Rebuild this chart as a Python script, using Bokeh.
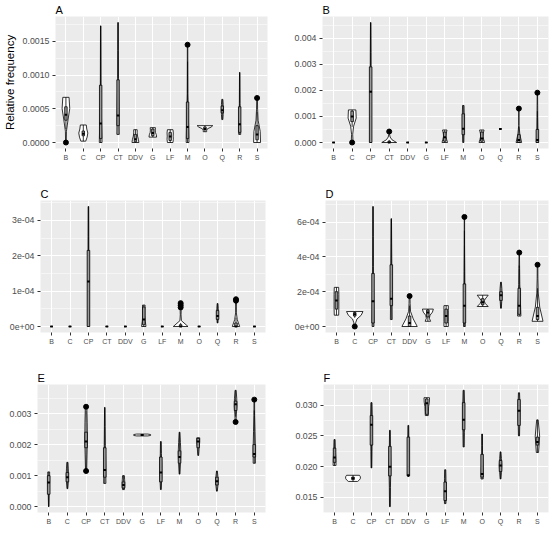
from bokeh.plotting import figure
from bokeh.layouts import column, row
from bokeh.models import Range1d, FixedTicker
from bokeh.embed import file_html
from bokeh.resources import INLINE

categories = ["B", "C", "CP", "CT", "DDV", "G", "LF", "M", "O", "Q", "R", "S"]

# ---------------- Panel A ----------------
A_lo = [0.0, 0.00002, 0.0, 0.00012, 0.0, 0.00008, 0.0, 0.0, 0.00016, 0.00034, 0.00012, 0.0]
A_hi = [0.00067, 0.00026, 0.00173, 0.00178, 0.00019, 0.00022, 0.00019, 0.00145, 0.00025, 0.00064, 0.00104, 0.00066]
A_q1 = [0.00033, 0.0001, 0.00006, 0.00025, 0.00001, 0.0001, 0.00003, 0.00006, 0.00019, 0.00044, 0.00015, 0.00004]
A_med = [0.00041, 0.00013, 0.00028, 0.0004, 0.00005, 0.00014, 0.00009, 0.00023, 0.0002, 0.00048, 0.00027, 0.00012]
A_q3 = [0.00053, 0.00017, 0.00085, 0.00093, 0.00012, 0.0002, 0.00015, 0.0006, 0.00023, 0.00054, 0.00053, 0.00025]
A_wlo = [0.0002, 0.00002, 0.0, 0.00012, 0.0, 0.00008, 0.0, 0.0, 0.00016, 0.00034, 0.00012, 0.0]
A_whi = [0.00067, 0.00026, 0.00173, 0.00178, 0.00019, 0.00022, 0.00019, 0.0012, 0.00025, 0.00064, 0.00104, 0.00045]
A_out = [[0.0], [], [], [], [], [], [], [0.00145], [], [], [], [0.00066]]
A_shape = [[0.02, 0.03, 0.12, 0.22, 0.18], [0.14, 0.22, 0.26, 0.2, 0.17], [0.08, 0.04, 0.02, 0.015, 0.01],
           [0.07, 0.05, 0.02, 0.015, 0.01], [0.2, 0.17, 0.12, 0.1, 0.1], [0.22, 0.2, 0.15, 0.14, 0.15],
           [0.16, 0.18, 0.17, 0.18, 0.16], [0.08, 0.05, 0.02, 0.015, 0.012], [0.1, 0.1, 0.15, 0.35, 0.45],
           [0.03, 0.05, 0.06, 0.05, 0.03], [0.06, 0.04, 0.02, 0.015, 0.01], [0.2, 0.18, 0.06, 0.03, 0.02]]
A_ticks = [0.0, 0.0005, 0.001, 0.0015]
A_tick_labels = ["0.0000", "0.0005", "0.0010", "0.0015"]

# ---------------- Panel B ----------------
B_lo = [0, 0, 0, 0, 0, 0, 0, 0, 0, 0.00052, 0, 0]
B_hi = [0, 0.00125, 0.0046, 0.00042, 0, 0, 0.00048, 0.00142, 0.00048, 0.00052, 0.0013, 0.00191]
B_q1 = [0, 0.0008, 0.0, 0, 0, 0, 0.00005, 0.0003, 0.00005, 0.00052, 0, 0]
B_med = [0, 0.001, 0.00195, 0, 0, 0, 0.0002, 0.00053, 0.00015, 0.00052, 0.0001, 0.0001]
B_q3 = [0, 0.0012, 0.0029, 0.00005, 0, 0, 0.0004, 0.0011, 0.0004, 0.00052, 0.0003, 0.0005]
B_wlo = [0, 0.0006, 0, 0, 0, 0, 0, 0, 0, 0.00052, 0, 0]
B_whi = [0, 0.00125, 0.0046, 0.0001, 0, 0, 0.00048, 0.00142, 0.00048, 0.00052, 0.0006, 0.0012]
B_out = [[], [0.0], [], [0.00042], [], [], [], [], [], [], [0.0013], [0.00191]]
B_shape = [[0, 0, 0, 0, 0], [0.05, 0.03, 0.08, 0.22, 0.2], [0.04, 0.03, 0.025, 0.02, 0.01],
           [0.4, 0.15, 0.05, 0.02, 0.02], [0, 0, 0, 0, 0], [0, 0, 0, 0, 0],
           [0.15, 0.1, 0.06, 0.08, 0.12], [0.03, 0.04, 0.05, 0.05, 0.04], [0.15, 0.1, 0.06, 0.08, 0.12],
           [0, 0, 0, 0, 0], [0.15, 0.05, 0.01, 0.01, 0.01], [0.06, 0.03, 0.02, 0.015, 0.01]]
B_ticks = [0.0, 0.001, 0.002, 0.003, 0.004]
B_tick_labels = ["0.000", "0.001", "0.002", "0.003", "0.004"]

# ---------------- Panel C ----------------
C_lo = [0, 0, 0, 0, 0, 0, 0, 0, 0, 0.00001, 0, 0]
C_hi = [0, 0, 0.000339, 0, 0, 0.0000605, 0, 0.000066, 0, 0.000065, 0.000077, 0]
C_q1 = [0, 0, 0, 0, 0, 0.000005, 0, 0, 0, 0.00002, 0, 0]
C_med = [0, 0, 0.000127, 0, 0, 0.00002, 0, 0, 0, 0.00003, 0, 0]
C_q3 = [0, 0, 0.000215, 0, 0, 0.000055, 0, 0.000005, 0, 0.000045, 0.00001, 0]
C_wlo = [0, 0, 0, 0, 0, 0, 0, 0, 0, 0.00001, 0, 0]
C_whi = [0, 0, 0.000339, 0, 0, 0.0000605, 0, 0.00001, 0, 0.000065, 0.000025, 0]
C_out = [[], [], [], [], [], [], [], [0.000054, 0.00006, 0.000066], [], [], [0.000073, 0.000077], []]
C_shape = [[0, 0, 0, 0, 0], [0, 0, 0, 0, 0], [0.04, 0.03, 0.025, 0.02, 0.015],
           [0, 0, 0, 0, 0], [0, 0, 0, 0, 0], [0.12, 0.08, 0.06, 0.06, 0.07],
           [0, 0, 0, 0, 0], [0.4, 0.04, 0.02, 0.03, 0.06], [0, 0, 0, 0, 0],
           [0.02, 0.04, 0.05, 0.04, 0.02], [0.2, 0.07, 0.02, 0.02, 0.03], [0, 0, 0, 0, 0]]
C_ticks = [0.0, 0.0001, 0.0002, 0.0003]
C_tick_labels = ["0e+00", "1e-04", "2e-04", "3e-04"]

# ---------------- Panel D ----------------
D_lo = [0.000065, 0.0, 0.0, 0.00004, 0.0, 0.00003, 0.0, 0.0, 0.000115, 0.000105, 0.00006, 0.00003]
D_hi = [0.000225, 0.000086, 0.00069, 0.00062, 0.000175, 0.0001, 0.00012, 0.00063, 0.00018, 0.000255, 0.000425, 0.000355]
D_q1 = [0.0001, 0.00006, 0.00002, 0.00012, 0.0, 0.000055, 0.00002, 0.00002, 0.000125, 0.00015, 0.00007, 0.00004]
D_med = [0.00015, 0.00007, 0.000145, 0.00016, 0.00002, 0.00008, 0.00006, 0.00012, 0.00014, 0.00018, 0.00012, 0.00006]
D_q3 = [0.0002, 0.00008, 0.000305, 0.000355, 0.00006, 0.000095, 0.0001, 0.000245, 0.00016, 0.0002, 0.00022, 0.00011]
D_wlo = [0.000065, 0.00005, 0.0, 0.00004, 0.0, 0.00003, 0.0, 0.0, 0.000115, 0.000105, 0.00006, 0.00003]
D_whi = [0.000225, 0.000086, 0.00069, 0.00062, 0.00012, 0.0001, 0.00012, 0.00055, 0.00018, 0.000255, 0.00035, 0.00022]
D_out = [[], [0.0], [], [], [0.000175], [], [], [0.00063], [], [], [0.000425], [0.000355]]
D_shape = [[0.12, 0.13, 0.13, 0.13, 0.12], [0.04, 0.05, 0.12, 0.35, 0.45], [0.05, 0.03, 0.02, 0.015, 0.01],
           [0.05, 0.04, 0.03, 0.02, 0.01], [0.42, 0.2, 0.05, 0.03, 0.02], [0.15, 0.08, 0.12, 0.25, 0.3],
           [0.12, 0.12, 0.12, 0.12, 0.12], [0.05, 0.03, 0.02, 0.01, 0.01], [0.3, 0.15, 0.07, 0.18, 0.3],
           [0.02, 0.04, 0.06, 0.05, 0.02], [0.09, 0.06, 0.03, 0.02, 0.01], [0.3, 0.12, 0.04, 0.02, 0.015]]
D_ticks = [0.0, 0.0002, 0.0004, 0.0006]
D_tick_labels = ["0e+00", "2e-04", "4e-04", "6e-04"]

# ---------------- Panel E ----------------
E_lo = [0.0, 0.00058, 0.00115, 0.00075, 0.00055, 0.00228, 0.00055, 0.00105, 0.00165, 0.0005, 0.00273, 0.0014]
E_hi = [0.00112, 0.00143, 0.00322, 0.0032, 0.001, 0.00234, 0.0021, 0.0024, 0.00222, 0.00115, 0.00375, 0.00345]
E_q1 = [0.0004, 0.0008, 0.0019, 0.00095, 0.0006, 0.0023, 0.0008, 0.0014, 0.0019, 0.0007, 0.0031, 0.0016]
E_med = [0.00078, 0.00095, 0.0021, 0.00118, 0.0007, 0.00231, 0.0011, 0.0016, 0.0021, 0.00082, 0.0033, 0.0017]
E_q3 = [0.001, 0.0011, 0.0024, 0.0019, 0.0008, 0.00232, 0.0016, 0.0018, 0.0022, 0.00095, 0.0034, 0.002]
E_wlo = [0.0, 0.00058, 0.0012, 0.00075, 0.00055, 0.00228, 0.00055, 0.00105, 0.00165, 0.0005, 0.0029, 0.0014]
E_whi = [0.00112, 0.00143, 0.0031, 0.0032, 0.001, 0.00234, 0.0021, 0.0024, 0.00222, 0.00115, 0.00375, 0.0031]
E_out = [[], [], [0.00115, 0.00322], [], [], [], [], [], [], [], [0.00273], [0.00345]]
E_shape = [[0.01, 0.02, 0.03, 0.05, 0.05], [0.02, 0.05, 0.06, 0.05, 0.03], [0.03, 0.05, 0.07, 0.06, 0.04],
           [0.06, 0.05, 0.03, 0.02, 0.01], [0.05, 0.07, 0.07, 0.06, 0.05], [0.3, 0.45, 0.45, 0.45, 0.3],
           [0.02, 0.05, 0.05, 0.03, 0.02], [0.02, 0.05, 0.07, 0.05, 0.02], [0.02, 0.04, 0.05, 0.08, 0.08],
           [0.02, 0.05, 0.07, 0.05, 0.02], [0.02, 0.04, 0.07, 0.06, 0.03], [0.06, 0.06, 0.04, 0.02, 0.015]]
E_ticks = [0.0, 0.001, 0.002, 0.003]
E_tick_labels = ["0.000", "0.001", "0.002", "0.003"]

# ---------------- Panel F ----------------
F_lo = [0.0202, 0.0176, 0.0198, 0.0135, 0.0184, 0.0283, 0.014, 0.0232, 0.018, 0.018, 0.025, 0.0223]
F_hi = [0.0244, 0.0186, 0.0304, 0.0259, 0.0267, 0.0312, 0.0195, 0.0324, 0.0253, 0.0224, 0.032, 0.0276]
F_q1 = [0.0207, 0.0179, 0.0235, 0.0185, 0.0185, 0.0285, 0.0145, 0.026, 0.0183, 0.0192, 0.0267, 0.0235]
F_med = [0.0215, 0.0181, 0.0268, 0.02, 0.0186, 0.0303, 0.016, 0.0276, 0.0188, 0.0202, 0.0291, 0.024]
F_q3 = [0.023, 0.0183, 0.0283, 0.0233, 0.0248, 0.031, 0.0175, 0.0304, 0.022, 0.021, 0.0309, 0.0248]
F_wlo = [0.0202, 0.0176, 0.0198, 0.0135, 0.0184, 0.0283, 0.014, 0.0232, 0.018, 0.018, 0.025, 0.0223]
F_whi = [0.0244, 0.0186, 0.0304, 0.0259, 0.0267, 0.0312, 0.0195, 0.0324, 0.0253, 0.0224, 0.032, 0.0276]
F_out = [[], [], [], [], [], [], [], [], [], [], [], []]
F_shape = [[0.08, 0.07, 0.05, 0.04, 0.03], [0.25, 0.35, 0.4, 0.4, 0.35], [0.02, 0.03, 0.04, 0.05, 0.03],
           [0.02, 0.03, 0.05, 0.03, 0.02], [0.02, 0.03, 0.03, 0.03, 0.02], [0.08, 0.09, 0.1, 0.14, 0.15],
           [0.04, 0.05, 0.04, 0.04, 0.03], [0.03, 0.04, 0.05, 0.05, 0.03], [0.06, 0.04, 0.02, 0.02, 0.02],
           [0.02, 0.05, 0.07, 0.05, 0.02], [0.03, 0.04, 0.05, 0.05, 0.03], [0.06, 0.09, 0.12, 0.08, 0.04]]
F_ticks = [0.015, 0.02, 0.025, 0.03]
F_tick_labels = ["0.015", "0.020", "0.025", "0.030"]

FONT = "Liberation Sans"
KNOTS = [0.0, 0.25, 0.5, 0.75, 1.0]
BOX_W = 0.14


def panel(title, lo, q1, med, q3, hi, wlo, whi, outl, shape, ticks, tick_labels,
          width, height, borders, ylabel=None):
    n = len(categories)
    pos = list(range(1, n + 1))
    allv = list(lo) + list(hi) + [v for o in outl for v in o]
    ymin, ymax = min(allv), max(allv)
    pad = 0.05 * (ymax - ymin)
    p = figure(width=width, height=height, x_range=Range1d(0.4, n + 0.6),
               y_range=Range1d(ymin - pad, ymax + pad), output_backend="svg",
               toolbar_location=None, title=title)
    p.min_border_left, p.min_border_right, p.min_border_top, p.min_border_bottom = borders
    p.background_fill_color = "#EBEBEB"
    p.border_fill_color = "white"
    p.outline_line_color = None

    p.title.text_font = FONT
    p.title.text_font_size = "11px"
    p.title.text_font_style = "normal"
    p.title.text_color = "black"
    p.title.align = "left"
    p.title.standoff = 2

    xt = FixedTicker(ticks=pos, minor_ticks=[])
    step = ticks[1] - ticks[0]
    minor = [t - step / 2 for t in ticks] + [ticks[-1] + step / 2]
    yt = FixedTicker(ticks=ticks, minor_ticks=minor)
    p.xaxis.ticker = xt
    p.yaxis.ticker = yt
    p.xgrid.ticker = xt
    p.ygrid.ticker = yt
    p.xaxis.major_label_overrides = {i + 1: c for i, c in enumerate(categories)}
    p.yaxis.major_label_overrides = dict(zip(ticks, tick_labels))
    for ax in p.axis:
        ax.axis_line_color = None
        ax.major_tick_line_color = "#333333"
        ax.major_tick_out = 3
        ax.major_tick_in = 0
        ax.minor_tick_line_color = None
        ax.major_label_text_color = "#4D4D4D"
        ax.major_label_text_font = FONT
        ax.major_label_standoff = 2
    p.xaxis.major_label_text_font_size = "7px"
    p.yaxis.major_label_text_font_size = "8.8px"
    if ylabel:
        p.yaxis.axis_label = ylabel
        p.yaxis.axis_label_text_font = FONT
        p.yaxis.axis_label_text_font_size = "11.5px"
        p.yaxis.axis_label_text_font_style = "normal"
        p.yaxis.axis_label_text_color = "black"
        p.yaxis.axis_label_standoff = 4

    p.xgrid.grid_line_color = "white"
    p.xgrid.grid_line_width = 1.1
    p.ygrid.grid_line_color = "white"
    p.ygrid.grid_line_width = 1.1
    p.ygrid.minor_grid_line_color = "white"
    p.ygrid.minor_grid_line_width = 0.5

    # violins
    vx, vy = [], []
    for i in range(n):
        if hi[i] <= lo[i]:
            continue
        c = pos[i]
        ys = [lo[i] + k * (hi[i] - lo[i]) for k in KNOTS]
        w = shape[i]
        vx.append([c + wi for wi in w] + [c - wi for wi in w[::-1]])
        vy.append(ys + ys[::-1])
    p.patches(vx, vy, fill_color="white", line_color="black", line_width=0.8)

    # whiskers
    p.segment(x0=pos, y0=wlo, x1=pos, y1=q1, line_color="black", line_width=0.8)
    p.segment(x0=pos, y0=q3, x1=pos, y1=whi, line_color="black", line_width=0.8)
    # boxes
    p.quad(left=[c - BOX_W / 2 for c in pos], right=[c + BOX_W / 2 for c in pos],
           bottom=q1, top=q3, fill_color="#9A9A9A", line_color="black", line_width=0.8)
    # medians
    p.segment(x0=[c - BOX_W / 2 for c in pos], y0=med, x1=[c + BOX_W / 2 for c in pos], y1=med,
              line_color="black", line_width=2)
    # outliers
    ox, oy = [], []
    for i, o in enumerate(outl):
        for v in o:
            ox.append(pos[i])
            oy.append(v)
    if ox:
        p.scatter(ox, oy, size=5, fill_color="black", line_color="black")
    return p


pA = panel("A", A_lo, A_q1, A_med, A_q3, A_hi, A_wlo, A_whi, A_out, A_shape, A_ticks, A_tick_labels,
           276, 184, (44, 9, 15, 36), ylabel="Relative frequency")
pB = panel("B", B_lo, B_q1, B_med, B_q3, B_hi, B_wlo, B_whi, B_out, B_shape, B_ticks, B_tick_labels,
           274, 184, (46, 2, 15, 36))
pC = panel("C", C_lo, C_q1, C_med, C_q3, C_hi, C_wlo, C_whi, C_out, C_shape, C_ticks, C_tick_labels,
           276, 184, (40, 11, 15, 36))
pD = panel("D", D_lo, D_q1, D_med, D_q3, D_hi, D_wlo, D_whi, D_out, D_shape, D_ticks, D_tick_labels,
           274, 184, (49, 2, 15, 36))
pE = panel("E", E_lo, E_q1, E_med, E_q3, E_hi, E_wlo, E_whi, E_out, E_shape, E_ticks, E_tick_labels,
           276, 159, (37, 11, 15, 12))
pF = panel("F", F_lo, F_q1, F_med, F_q3, F_hi, F_wlo, F_whi, F_out, F_shape, F_ticks, F_tick_labels,
           274, 159, (47, 2, 15, 12))

layout = column(row(pA, pB), row(pC, pD), row(pE, pF))
open("out.html", "w").write(file_html(layout, INLINE))
